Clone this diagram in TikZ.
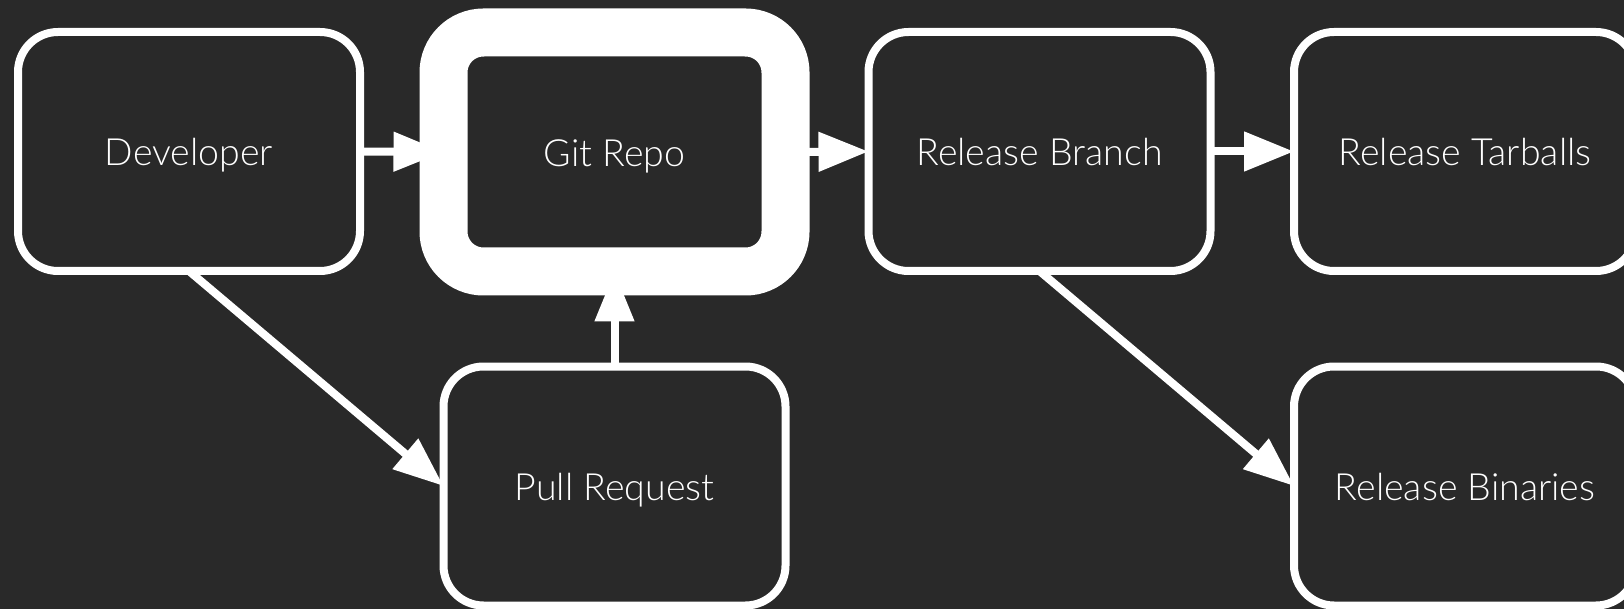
\documentclass[tikz,border=0pt]{standalone}
\usepackage{fontspec}
\setmainfont{Lato}[UprightFont={* Light}]
\usetikzlibrary{arrows.meta}
\definecolor{bg}{HTML}{292929}
\begin{document}
\begin{tikzpicture}[x=1pt,y=-1pt,
  box/.style={draw=white, fill=bg, line width=8pt, rounded corners=40pt,
    minimum width=342pt, minimum height=239pt, outer sep=0pt, inner sep=0pt,
    text=white, font=\fontsize{37.5}{40}\selectfont,
    text height=29pt, text depth=0pt},
  repo/.style={box, line width=48pt},
  conn/.style={draw=white, line width=8pt,
    -{Triangle[length=50pt, width=38pt]}}]
\fill[bg] (0,0) rectangle (1624,609);
\useasboundingbox (0,0) rectangle (1624,609);
\node[box]  (dev) at (189,151.5) {Developer};
\node[repo] (git) at (614.5,152) {Git Repo};
\node[box]  (rb)  at (1039.5,151.5) {Release Branch};
\node[box]  (rt)  at (1465,151.5) {Release Tarballs};
\node[box]  (pr)  at (614.5,486) {Pull Request};
\node[box]  (bin) at (1465,486) {Release Binaries};
\draw[conn] (dev.east) -- (git.west);
\draw[conn] (git.east) -- (rb.west);
\draw[conn] (rb.east) -- (rt.west);
\draw[conn] (pr.north) -- (git.south);
\draw[conn] (dev.south) -- (pr.west);
\draw[conn] (rb.south) -- (bin.west);
\end{tikzpicture}
\end{document}
